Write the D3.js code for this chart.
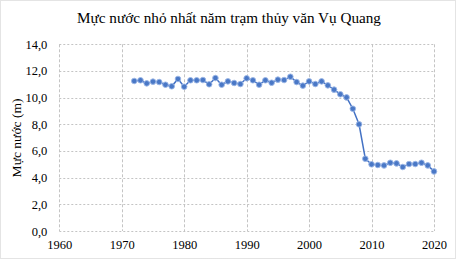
<!DOCTYPE html>
<html><head><meta charset="utf-8">
<script src="https://cdn.jsdelivr.net/npm/d3@7"></script>
<style>body{margin:0;background:#fff}svg{display:block}
svg text{font-family:"Liberation Serif","Times New Roman",serif !important;}</style>
</head><body>
<svg id="c" width="456" height="259"></svg>
<script>
const years = [1972,1973,1974,1975,1976,1977,1978,1979,1980,1981,1982,1983,1984,1985,1986,1987,1988,1989,1990,1991,1992,1993,1994,1995,1996,1997,1998,1999,2000,2001,2002,2003,2004,2005,2006,2007,2008,2009,2010,2011,2012,2013,2014,2015,2016,2017,2018,2019,2020];
const levels = [11.25,11.3,11.07,11.2,11.17,10.97,10.85,11.4,10.82,11.3,11.3,11.32,11.0,11.47,10.97,11.22,11.1,11.02,11.45,11.3,10.97,11.3,11.12,11.35,11.32,11.57,11.17,10.9,11.22,11.02,11.22,10.92,10.6,10.25,10.02,9.17,8.0,5.42,5.0,4.95,4.92,5.12,5.07,4.8,5.02,5.02,5.12,4.92,4.47];
const xTicks = [1960,1970,1980,1990,2000,2010,2020];
const yTicks = [0,2,4,6,8,10,12,14];
const title = "Mực nước nhỏ nhất năm trạm thủy văn Vụ Quang";
const yTitle = "Mực nước (m)";

const svg = d3.select("#c");
const W = 456, H = 259;
const L = 59.3, R = 434, T = 44.3, B = 231;
const x = d3.scaleLinear().domain([1960,2020]).range([L,R]);
const y = d3.scaleLinear().domain([0,14]).range([B,T]);

svg.append("rect").attr("x",0.5).attr("y",0.5).attr("width",W-1).attr("height",H-1)
  .attr("fill","#fff").attr("stroke","#c8c8c8").attr("stroke-dasharray","1,1");

svg.append("text").attr("x",229).attr("y",23).attr("text-anchor","middle")
  .attr("font-size",15.2).attr("fill","#000").text(title);

const g = svg.append("g");
g.selectAll("line.h").data(yTicks).join("line")
  .attr("x1",L).attr("x2",R).attr("y1",d=>Math.round(y(d))+0.5).attr("y2",d=>Math.round(y(d))+0.5)
  .attr("stroke","#c4c4c4").attr("stroke-dasharray","2,2");
g.selectAll("line.v").data(xTicks).join("line")
  .attr("y1",T).attr("y2",B).attr("x1",d=>Math.round(x(d))+0.5).attr("x2",d=>Math.round(x(d))+0.5)
  .attr("stroke","#c4c4c4").attr("stroke-dasharray","3,2");

const ax = svg.append("g").attr("transform",`translate(0,${B})`)
  .call(d3.axisBottom(x).tickValues(xTicks).tickFormat(d3.format("d")).tickSize(0).tickPadding(9));
ax.select(".domain").remove();
ax.selectAll("text").attr("font-size",12.5).attr("fill","#000");

const fmt = d => d.toFixed(1).replace(".",",");
const ay = svg.append("g").attr("transform",`translate(${L},0)`)
  .call(d3.axisLeft(y).tickValues(yTicks).tickFormat(fmt).tickSize(0).tickPadding(12));
ay.select(".domain").remove();
ay.selectAll("text").attr("font-size",12.5).attr("fill","#000");

svg.append("text").attr("transform","translate(21,138) rotate(-90)").attr("text-anchor","middle")
  .attr("font-size",13.5).attr("fill","#000").text(yTitle);

const data = years.map((yr,i)=>({yr, v:levels[i]}));
svg.append("path").datum(data)
  .attr("d", d3.line().x(d=>x(d.yr)).y(d=>y(d.v)))
  .attr("fill","none").attr("stroke","#4472c4").attr("stroke-width",1.5);
svg.selectAll("circle.p").data(data).join("circle")
  .attr("cx",d=>x(d.yr)).attr("cy",d=>y(d.v)).attr("r",2.8)
  .attr("fill","#4a78c6").attr("stroke","#9db8e6").attr("stroke-width",0.9);
</script>
</body></html>
